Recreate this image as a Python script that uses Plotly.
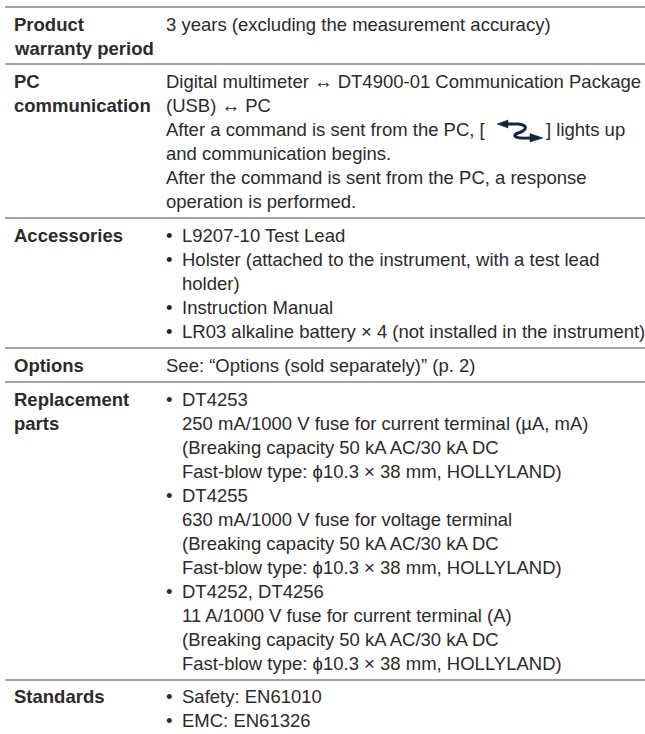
import plotly.graph_objects as go

W, H = 645, 734
FONT = "Liberation Sans"
INK = "#2d2a2b"
RULE = "#a3a3a3"
SIZE = 18.5
ICON = "#10243e"
TEXT_SHIFT = -1

labels = [
    ("Product", 25), ("warranty period", 49),
    ("PC", 82), ("communication", 106),
    ("Accessories", 236), ("Options", 366),
    ("Replacement", 400), ("parts", 424),
    ("Standards", 697),
]
body = [
    ("3 years (excluding the measurement accuracy)", 164, 25),
    ("Digital multimeter ↔ DT4900-01 Communication Package", 164, 82),
    ("(USB) ↔ PC", 164, 106),
    ("After a command is sent from the PC, [", 164, 130),
    ("] lights up", 543.5, 130),
    ("and communication begins.", 164, 154),
    ("After the command is sent from the PC, a response", 164, 178),
    ("operation is performed.", 164, 202),
    ("•", 164, 236), ("L9207-10 Test Lead", 179.5, 236),
    ("•", 164, 260), ("Holster (attached to the instrument, with a test lead", 179.5, 260),
    ("holder)", 179.5, 284),
    ("•", 164, 308), ("Instruction Manual", 179.5, 308),
    ("•", 164, 332), ("LR03 alkaline battery × 4 (not installed in the instrument)", 179.5, 332),
    ("See: “Options (sold separately)” (p. 2)", 164, 366),
    ("•", 164, 400), ("DT4253", 179.5, 400),
    ("250 mA/1000 V fuse for current terminal (µA, mA)", 179.5, 424),
    ("(Breaking capacity 50 kA AC/30 kA DC", 179.5, 448),
    ("Fast-blow type: ϕ10.3 × 38 mm, HOLLYLAND)", 179.5, 472),
    ("•", 164, 496), ("DT4255", 179.5, 496),
    ("630 mA/1000 V fuse for voltage terminal", 179.5, 520),
    ("(Breaking capacity 50 kA AC/30 kA DC", 179.5, 544),
    ("Fast-blow type: ϕ10.3 × 38 mm, HOLLYLAND)", 179.5, 568),
    ("•", 164, 592), ("DT4252, DT4256", 179.5, 592),
    ("11 A/1000 V fuse for current terminal (A)", 179.5, 616),
    ("(Breaking capacity 50 kA AC/30 kA DC", 179.5, 640),
    ("Fast-blow type: ϕ10.3 × 38 mm, HOLLYLAND)", 179.5, 664),
    ("•", 164, 697), ("Safety: EN61010", 179.5, 697),
    ("•", 164, 721), ("EMC: EN61326", 179.5, 721),
]
rules_y = [7, 64, 218, 348, 382, 680]

fig = go.Figure()
for text, y in labels:
    fig.add_annotation(x=11.5, y=y + TEXT_SHIFT, text=f"<b>{text}</b>", xanchor="left", yanchor="middle",
                       showarrow=False, font=dict(family=FONT, size=SIZE, color=INK))
for text, x, y in body:
    fig.add_annotation(x=x, y=y + TEXT_SHIFT, text=text, xanchor="left", yanchor="middle",
                       showarrow=False, font=dict(family=FONT, size=SIZE, color=INK))
for y in rules_y:
    fig.add_shape(type="line", x0=5, x1=645, y0=y, y1=y, line=dict(color=RULE, width=2))
fig.add_shape(type="path", path="M 505 124 L 518 124 Q 527 125 525 129 Q 523 132 518 133 Q 513 135 516 137 Q 518 138.5 532 138",
              line=dict(color=ICON, width=3))
fig.add_shape(type="path", path="M 497 124 L 508 120 L 508 128 Z", fillcolor=ICON, line=dict(color=ICON, width=0.5))
fig.add_shape(type="path", path="M 543 138 L 530 133.5 L 530 142 Z", fillcolor=ICON, line=dict(color=ICON, width=0.5))
fig.update_layout(width=W, height=H, margin=dict(l=0, r=0, t=0, b=0), showlegend=False,
                  paper_bgcolor="white", plot_bgcolor="white",
                  xaxis=dict(range=[0, W], visible=False, fixedrange=True),
                  yaxis=dict(range=[H, 0], visible=False, fixedrange=True))
fig.write_html("out.html", config={"displayModeBar": False},
               post_script="document.body.style.margin='0';document.documentElement.style.overflow='hidden';")
